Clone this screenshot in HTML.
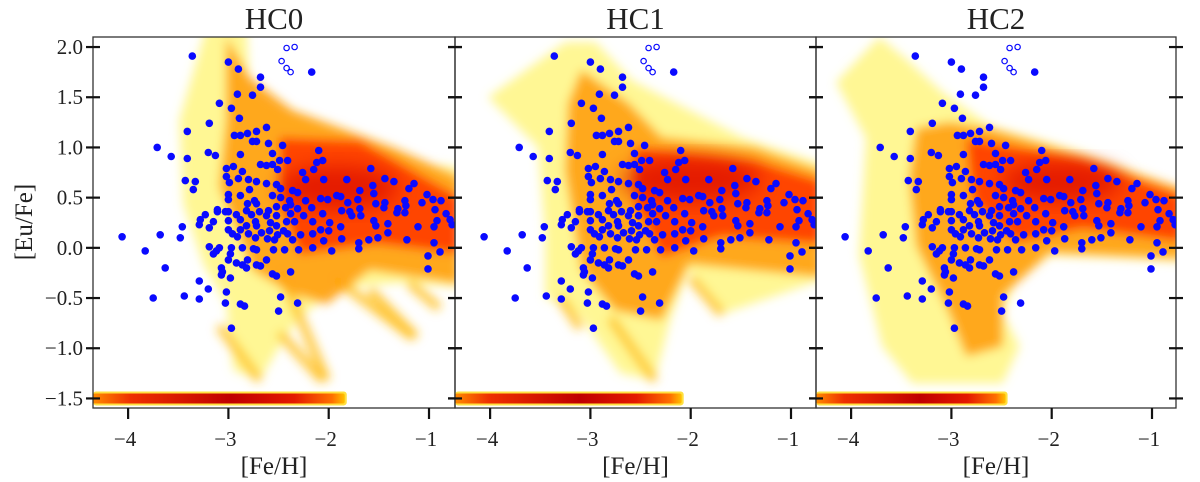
<!DOCTYPE html>
<html><head><meta charset="utf-8"><style>
html,body{margin:0;padding:0;background:#fff;}
svg{display:block;}
svg text{font-family:"Liberation Serif","DejaVu Serif",serif;fill:#222;}
</style></head><body>
<svg id="chart" width="1200" height="482" viewBox="0 0 1200 482" xmlns="http://www.w3.org/2000/svg" font-family="Liberation Serif, DejaVu Serif, serif">
<defs>
<filter id="blur" x="-20%" y="-20%" width="140%" height="140%"><feGaussianBlur stdDeviation="5"/></filter>
<filter id="blur2" x="-30%" y="-30%" width="160%" height="160%"><feGaussianBlur stdDeviation="10"/></filter>
<linearGradient id="barGrad" x1="0" x2="1" y1="0" y2="0">
<stop offset="0" stop-color="#ff8a00"/><stop offset="0.15" stop-color="#ee3000"/><stop offset="0.55" stop-color="#c00000"/><stop offset="0.8" stop-color="#e41a00"/><stop offset="0.95" stop-color="#ff7000"/><stop offset="1" stop-color="#ffc000"/>
</linearGradient>
</defs>
</svg>
<script>
// ---- data ----
const panelTitles = ['HC0','HC1','HC2'];
const xTicks = [-4,-3,-2,-1];
const yTicks = [2.0,1.5,1.0,0.5,0.0,-0.5,-1.0,-1.5];
const barEnds = [-1.84,-2.09,-2.46];
const starFeH = [-3.36,-3.00,-2.90,-2.17,-2.68,-2.68,-2.91,-2.76,-3.09,-2.97,-2.89,-3.19,-3.41,-2.62,-2.72,-2.81,-2.94,-2.88,-2.76,-2.72,-2.60,-2.46,-3.71,-3.57,-3.41,-3.20,-3.13,-2.88,-2.56,-2.10,-2.49,-2.41,-2.06,-2.12,-2.68,-2.62,-2.56,-2.95,-3.02,-1.58,-2.15,-2.26,-2.86,-2.51,-3.02,-2.90,-2.80,-2.72,-2.23,-1.82,-1.44,-1.35,-2.05,-3.43,-3.33,-2.99,-2.62,-2.52,-1.15,-1.56,-1.20,-1.69,-3.35,-2.79,-2.48,-2.36,-2.31,-3.00,-2.88,-2.56,-2.48,-1.92,-1.88,-1.55,-1.02,-0.96,-3.00,-2.74,-2.39,-2.23,-2.08,-2.01,-1.71,-1.44,-1.24,-1.07,-0.88,-2.81,-2.72,-2.38,-1.81,-1.53,-1.23,-2.52,-2.43,-2.31,-2.17,-1.69,-1.45,-1.31,-3.11,-3.00,-2.82,-2.60,-1.87,-1.79,-0.94,-3.11,-3.03,-2.69,-2.38,-2.06,-1.32,-1.24,-3.23,-2.92,-2.77,-2.62,-2.52,-2.25,-1.77,-1.68,-0.83,-0.79,-3.28,-3.15,-3.00,-2.88,-2.73,-2.58,-2.42,-2.34,-2.16,-1.99,-1.55,-0.92,-0.77,-3.29,-2.82,-2.72,-2.52,-1.88,-1.41,-1.11,-0.95,-1.53,-3.46,-3.19,-3.00,-2.88,-2.59,-2.45,-2.08,-2.00,-1.41,-2.96,-2.80,-2.67,-2.51,-2.41,-2.28,-2.16,-3.68,-4.06,-3.48,-2.91,-2.73,-2.61,-2.54,-2.36,-1.87,-1.51,-1.60,-2.05,-1.22,-0.95,-3.19,-3.09,-2.97,-2.86,-2.75,-2.16,-1.70,-1.70,-2.55,-2.44,-2.30,-1.97,-0.89,-3.83,-3.12,-3.15,-2.98,-2.72,-1.01,-3.00,-2.81,-2.62,-2.92,-2.86,-2.72,-2.68,-3.63,-3.07,-2.82,-1.01,-3.06,-3.07,-2.56,-2.52,-2.38,-2.98,-3.29,-3.20,-3.02,-3.75,-3.44,-3.29,-2.48,-3.03,-2.88,-2.84,-2.31,-2.50,-2.97];
const starEuFe = [1.91,1.85,1.78,1.75,1.70,1.60,1.53,1.52,1.44,1.39,1.29,1.24,1.16,1.20,1.16,1.14,1.12,1.12,1.06,1.06,1.04,1.02,1.00,0.91,0.89,0.95,0.92,0.93,0.94,0.97,0.87,0.87,0.87,0.85,0.83,0.82,0.83,0.81,0.79,0.79,0.78,0.75,0.76,0.78,0.71,0.69,0.68,0.66,0.68,0.68,0.69,0.66,0.68,0.67,0.66,0.65,0.64,0.63,0.64,0.62,0.59,0.57,0.58,0.58,0.59,0.57,0.55,0.53,0.52,0.52,0.50,0.52,0.51,0.54,0.53,0.48,0.48,0.47,0.47,0.47,0.49,0.48,0.48,0.45,0.47,0.45,0.47,0.44,0.44,0.43,0.45,0.44,0.42,0.41,0.40,0.39,0.40,0.39,0.40,0.39,0.38,0.36,0.37,0.37,0.37,0.36,0.38,0.36,0.36,0.36,0.34,0.34,0.35,0.35,0.33,0.33,0.33,0.32,0.32,0.32,0.32,0.32,0.34,0.28,0.28,0.26,0.27,0.28,0.26,0.25,0.26,0.26,0.26,0.25,0.27,0.27,0.23,0.23,0.22,0.22,0.22,0.21,0.24,0.21,0.21,0.22,0.21,0.20,0.18,0.18,0.17,0.17,0.18,0.17,0.15,0.14,0.14,0.15,0.13,0.14,0.13,0.14,0.13,0.11,0.10,0.11,0.10,0.09,0.08,0.08,0.09,0.10,0.08,0.07,0.08,0.05,0.01,0.00,0.00,0.00,-0.01,0.00,-0.01,0.05,-0.02,-0.02,-0.02,-0.03,-0.04,-0.03,-0.03,-0.06,-0.06,-0.02,-0.08,-0.12,-0.12,-0.12,-0.15,-0.17,-0.17,-0.18,-0.20,-0.20,-0.20,-0.21,-0.24,-0.27,-0.26,-0.28,-0.24,-0.30,-0.33,-0.41,-0.44,-0.50,-0.48,-0.51,-0.49,-0.55,-0.56,-0.58,-0.55,-0.63,-0.80];
const limitFeH = [-2.42,-2.34,-2.47,-2.42,-2.38];
const limitEuFe = [1.99,2.00,1.86,1.79,1.75];

// ---- layout ----
const NS='http://www.w3.org/2000/svg';
const svg=document.getElementById('chart');
const panelLeft=[93,455,816], panelW=[362,361,360], plotTop=37, plotBottom=408;
const xMin=-4.35, xPerUnit=100.3, yMax=2.10, yPerUnit=100.4;
const FONT='Liberation Serif, DejaVu Serif, serif';
function mk(tag,attrs,parent){const e=document.createElementNS(NS,tag);for(const k in attrs)e.setAttribute(k,attrs[k]);(parent||svg).appendChild(e);return e;}
function xs(p,v){return panelLeft[p]+(v-xMin)*xPerUnit;}
function ys(v){return plotTop+(yMax-v)*yPerUnit;}
function pts(p,arr){return arr.map(a=>xs(p,a[0]).toFixed(1)+','+ys(a[1]).toFixed(1)).join(' ');}

const shapes=[
 { pale:[[-3.22,2.2],[-2.82,2.2],[-2.79,1.6],[-2.49,1.4],[-2.02,1.24],[-1.03,0.84],[-0.7,0.8],[-0.7,-0.39],[-1.3,-0.35],[-1.9,-0.4],[-2.3,-0.7],[-2.5,-1.0],[-2.69,-1.32],[-2.95,-1.22],[-3.02,-0.56],[-3.25,-0.16],[-3.45,0.44],[-3.49,1.27]],
   orange:[[-3.02,2.1],[-2.79,1.7],[-2.36,1.37],[-1.36,1.0],[-0.7,0.71],[-0.7,-0.36],[-1.59,-0.22],[-2.02,-0.56],[-2.36,-0.46],[-2.76,-0.22],[-3.09,0.61],[-3.02,1.27]],
   red:[[-2.49,1.1],[-1.69,1.07],[-0.7,0.51],[-0.7,-0.06],[-1.53,0.04],[-2.29,-0.06],[-2.49,0.44]],
   core:[-1.9,0.6,0.6,0.22],
   stripes:[[[-2.49,-0.22],[-2.02,-1.32]],[[-1.96,-0.29],[-1.16,-0.89]],[[-1.59,-0.42],[-1.13,-0.89]],[[-3.09,-0.78],[-2.69,-1.32]],[[-2.49,-0.85],[-2.06,-1.32]],[[-1.2,-0.35],[-0.9,-0.6]]]},
 { pale:[[-3.25,2.05],[-2.95,2.05],[-2.59,1.67],[-1.49,1.1],[-0.7,0.84],[-0.7,-0.32],[-1.69,-0.66],[-2.02,-0.22],[-2.2,-0.7],[-2.36,-1.32],[-2.7,-1.25],[-3.09,-0.69],[-3.45,-0.49],[-3.45,0.11],[-3.52,1.0],[-4.02,1.5]],
   orange:[[-3.09,1.77],[-2.62,1.44],[-2.29,1.1],[-1.36,1.0],[-0.7,0.77],[-0.7,-0.29],[-2.02,-0.16],[-2.29,-0.72],[-2.76,-0.62],[-3.09,-0.22],[-3.25,0.77],[-3.22,1.44]],
   red:[[-2.56,1.0],[-1.36,0.87],[-0.7,0.67],[-0.7,0.04],[-1.69,0.11],[-2.29,-0.09],[-2.56,0.44]],
   core:[-2.0,0.68,0.7,0.22],
   stripes:[[[-2.8,-0.7],[-2.36,-1.32]],[[-2.0,-0.3],[-1.69,-0.66]],[[-3.3,-0.5],[-3.1,-0.8]]]},
 { pale:[[-3.72,2.1],[-3.45,1.88],[-3.09,1.55],[-2.62,1.22],[-1.69,0.95],[-0.7,0.59],[-0.7,-0.14],[-1.26,-0.11],[-2.02,-0.08],[-2.36,-0.35],[-2.49,-0.65],[-2.32,-0.98],[-2.49,-1.35],[-3.39,-1.35],[-3.69,-0.98],[-3.92,-0.08],[-3.85,1.09],[-4.15,1.65]],
   orange:[[-3.35,1.19],[-3.02,1.25],[-2.62,1.19],[-1.69,0.92],[-0.7,0.59],[-0.7,-0.11],[-2.02,-0.05],[-2.49,-0.48],[-2.49,-0.98],[-2.85,-1.08],[-3.02,-0.65],[-3.35,0.02],[-3.42,0.69]],
   red:[[-2.85,1.09],[-1.69,0.89],[-0.7,0.52],[-0.7,0.06],[-1.69,0.19],[-2.36,0.06],[-2.79,0.46]],
   core:[-1.9,0.66,0.6,0.2],
   stripes:[]}
];

panelTitles.forEach((t,p)=>{
  const el=mk('text',{x:panelLeft[p]+panelW[p]/2,y:29,'text-anchor':'middle','font-size':31,'font-family':FONT});
  el.textContent=t;
  
  
  const xl=mk('text',{x:panelLeft[p]+panelW[p]/2,y:474,'text-anchor':'middle','font-size':25,'font-family':FONT});
  xl.textContent='[Fe/H]';
  
  
});
const yl=mk('text',{x:0,y:0,'text-anchor':'middle','font-size':25,'font-family':FONT,transform:'translate(32,222) rotate(-90)'});
yl.textContent='[Eu/Fe]';



const defs=svg.querySelector('defs');
for(let p=0;p<3;p++){
  const g=mk('g',{});
  
  
  const cp=mk('clipPath',{id:'clip'+p},defs);
  mk('rect',{x:panelLeft[p],y:plotTop,width:panelW[p],height:plotBottom-plotTop},cp);
  const hm=mk('g',{'clip-path':'url(#clip'+p+')'},g);
  
  
  const s=shapes[p];
  const b1=mk('g',{filter:'url(#blur)'},hm);
  mk('polygon',{points:pts(p,s.pale),fill:'#fff466',opacity:0.7},b1);
  s.stripes.forEach(st=>{mk('line',{x1:xs(p,st[0][0]),y1:ys(st[0][1]),x2:xs(p,st[1][0]),y2:ys(st[1][1]),stroke:'#ffc020','stroke-width':9,opacity:0.85},b1);});
  mk('polygon',{points:pts(p,s.orange),fill:'#ffa010',opacity:0.9},b1);
  mk('polygon',{points:pts(p,s.red),fill:'#ff3a00',opacity:0.9},b1);
  const b2=mk('g',{filter:'url(#blur2)'},hm);
  mk('ellipse',{cx:xs(p,s.core[0]),cy:ys(s.core[1]),rx:s.core[2]*xPerUnit,ry:s.core[3]*yPerUnit,fill:'#d40000',opacity:0.6},b2);
  const x0=panelLeft[p], x1=xs(p,barEnds[p]), yb=ys(-1.5);
  const bar=mk('g',{},hm);
  
  
  mk('rect',{x:x0,y:yb-7,width:x1-x0+2,height:14,rx:3,fill:'#ffe040'},bar);
  mk('rect',{x:x0,y:yb-5,width:x1-x0,height:10,rx:2,fill:'url(#barGrad)'},bar);
  const fr=mk('rect',{x:panelLeft[p],y:plotTop,width:panelW[p],height:plotBottom-plotTop,fill:'none',stroke:'#333','stroke-width':1.3},g);
  
  
  xTicks.forEach(v=>{
    const x=xs(p,v);
    mk('line',{x1:x,y1:plotBottom,x2:x,y2:plotBottom+11,stroke:'#111','stroke-width':2.2},g);
    const t=mk('text',{x:x-3,y:446,'text-anchor':'middle','font-size':21,'font-family':FONT},g);
    t.textContent='\u2212'+Math.abs(v);
    
    
  });
  yTicks.forEach(v=>{
    const y=ys(v);
    [panelLeft[p],panelLeft[p]+panelW[p]].forEach(ex=>{
      mk('line',{x1:ex-7,y1:y,x2:ex+7,y2:y,stroke:'#111','stroke-width':2.2},g);
    });
    if(p===0){
      const t=mk('text',{x:83,y:y+7,'text-anchor':'end','font-size':21,'font-family':FONT},g);
      t.textContent=(v<0?'\u2212':'')+Math.abs(v).toFixed(1);
      
      
    }
  });
  const sc=mk('g',{'clip-path':'url(#clip'+p+')'},g);
  
  
  for(let i=0;i<starFeH.length;i++){
    const c=mk('circle',{cx:xs(p,starFeH[i]).toFixed(1),cy:ys(starEuFe[i]).toFixed(1),r:3.8,fill:'#0a0aff'},sc);
    
    
  }
  for(let i=0;i<limitFeH.length;i++){
    const c=mk('circle',{cx:xs(p,limitFeH[i]).toFixed(1),cy:ys(limitEuFe[i]).toFixed(1),r:2.7,fill:'none',stroke:'#0a0aff','stroke-width':1.2},sc);
    
    
  }
}
</script>
</body></html>
